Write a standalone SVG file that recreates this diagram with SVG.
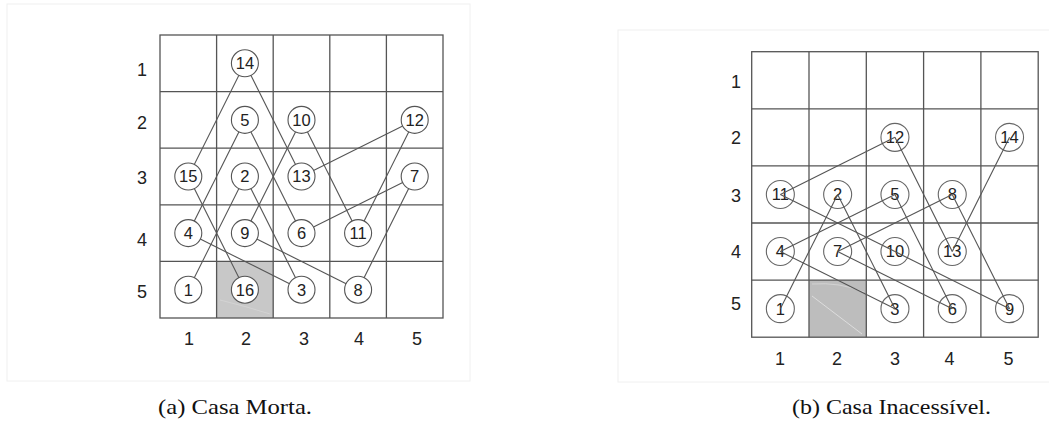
<svg xmlns="http://www.w3.org/2000/svg" width="1049" height="429" viewBox="0 0 1049 429">
<defs>
<style>
.frame{fill:#ffffff;stroke:#f0f0f0;stroke-width:1}
.grid{fill:none;stroke:#555;stroke-width:1.3}
.shade{fill:#c8c8c8}
.shade2{fill:#bdbdbd}
.lbl{font-family:"Liberation Sans",Arial,sans-serif;font-size:18px;fill:#222;text-anchor:middle}
.node circle{fill:#ffffff;stroke:#555;stroke-width:1.1}
.node2 circle{fill:#ffffff;stroke:#666;stroke-width:1.1}
.node text,.node2 text{font-family:"Liberation Sans",Arial,sans-serif;font-size:16.5px;fill:#222;text-anchor:middle}
.conn line{stroke:#555;stroke-width:1.1}
.cap{font-family:"Liberation Serif","Times New Roman",serif;font-size:21px;fill:#111}
</style>
</defs>
<rect width="1049" height="429" fill="#ffffff"/>

<!-- Panel (a) -->
<g id="panel-a">
<rect class="frame" x="7" y="4" width="463" height="377"/>
<rect class="shade" x="216.6" y="261.4" width="56.6" height="56.6"/>
<path d="M220 300 Q245 306 270 314" stroke="#d6d6d6" stroke-width="0.8" fill="none"/>
<g class="grid">
<rect x="160" y="35" width="283" height="283"/>
<line x1="216.6" y1="35" x2="216.6" y2="318"/>
<line x1="273.2" y1="35" x2="273.2" y2="318"/>
<line x1="329.8" y1="35" x2="329.8" y2="318"/>
<line x1="386.4" y1="35" x2="386.4" y2="318"/>
<line x1="160" y1="91.6" x2="443" y2="91.6"/>
<line x1="160" y1="148.2" x2="443" y2="148.2"/>
<line x1="160" y1="204.8" x2="443" y2="204.8"/>
<line x1="160" y1="261.4" x2="443" y2="261.4"/>
</g>
<g id="a-labels">
<text class="lbl" x="142" y="76">1</text>
<text class="lbl" x="142" y="129">2</text>
<text class="lbl" x="142" y="184">3</text>
<text class="lbl" x="142" y="246">4</text>
<text class="lbl" x="142" y="298">5</text>
<text class="lbl" x="189" y="345">1</text>
<text class="lbl" x="246" y="345">2</text>
<text class="lbl" x="304" y="345">3</text>
<text class="lbl" x="359" y="345">4</text>
<text class="lbl" x="417" y="345">5</text>
</g>
</g>

<g id="a-connectors" class="conn">
<line x1="188.3" y1="289.7" x2="244.9" y2="176.5"/>
<line x1="244.9" y1="176.5" x2="301.5" y2="289.7"/>
<line x1="301.5" y1="289.7" x2="188.3" y2="233.1"/>
<line x1="188.3" y1="233.1" x2="244.9" y2="119.9"/>
<line x1="244.9" y1="119.9" x2="301.5" y2="233.1"/>
<line x1="301.5" y1="233.1" x2="414.7" y2="176.5"/>
<line x1="414.7" y1="176.5" x2="358.1" y2="289.7"/>
<line x1="358.1" y1="289.7" x2="244.9" y2="233.1"/>
<line x1="244.9" y1="233.1" x2="301.5" y2="119.9"/>
<line x1="301.5" y1="119.9" x2="358.1" y2="233.1"/>
<line x1="358.1" y1="233.1" x2="414.7" y2="119.9"/>
<line x1="414.7" y1="119.9" x2="301.5" y2="176.5"/>
<line x1="301.5" y1="176.5" x2="244.9" y2="63.3"/>
<line x1="244.9" y1="63.3" x2="188.3" y2="176.5"/>
<line x1="188.3" y1="176.5" x2="244.9" y2="289.7"/>
</g>

<g id="a-n1" class="node"><circle cx="188.3" cy="289.7" r="13.5"/><text x="188.3" y="295.6">1</text></g>
<g id="a-n2" class="node"><circle cx="244.9" cy="176.5" r="13.5"/><text x="244.9" y="182.4">2</text></g>
<g id="a-n3" class="node"><circle cx="301.5" cy="289.7" r="13.5"/><text x="301.5" y="295.6">3</text></g>
<g id="a-n4" class="node"><circle cx="188.3" cy="233.1" r="13.5"/><text x="188.3" y="239">4</text></g>
<g id="a-n5" class="node"><circle cx="244.9" cy="119.9" r="13.5"/><text x="244.9" y="125.8">5</text></g>
<g id="a-n6" class="node"><circle cx="301.5" cy="233.1" r="13.5"/><text x="301.5" y="239">6</text></g>
<g id="a-n7" class="node"><circle cx="414.7" cy="176.5" r="13.5"/><text x="414.7" y="182.4">7</text></g>
<g id="a-n8" class="node"><circle cx="358.1" cy="289.7" r="13.5"/><text x="358.1" y="295.6">8</text></g>
<g id="a-n9" class="node"><circle cx="244.9" cy="233.1" r="13.5"/><text x="244.9" y="239">9</text></g>
<g id="a-n10" class="node"><circle cx="301.5" cy="119.9" r="13.5"/><text x="301.5" y="125.8">10</text></g>
<g id="a-n11" class="node"><circle cx="358.1" cy="233.1" r="13.5"/><text x="358.1" y="239">11</text></g>
<g id="a-n12" class="node"><circle cx="414.7" cy="119.9" r="13.5"/><text x="414.7" y="125.8">12</text></g>
<g id="a-n13" class="node"><circle cx="301.5" cy="176.5" r="13.5"/><text x="301.5" y="182.4">13</text></g>
<g id="a-n14" class="node"><circle cx="244.9" cy="63.3" r="13.5"/><text x="244.9" y="69.2">14</text></g>
<g id="a-n15" class="node"><circle cx="188.3" cy="176.5" r="13.5"/><text x="188.3" y="182.4">15</text></g>
<g id="a-n16" class="node"><circle cx="244.9" cy="289.7" r="13.5"/><text x="244.9" y="295.6">16</text></g>

<!-- Panel (b) -->
<g id="panel-b">
<rect class="frame" x="618" y="30" width="440" height="352"/>
<rect class="shade2" x="809" y="280.1" width="57.3" height="57.1"/>
<path d="M812 296 L862 334" stroke="#e4e4e4" stroke-width="0.8" fill="none"/>
<path d="M812 284 Q840 282 864 292" stroke="#d8d8d8" stroke-width="0.8" fill="none"/>
<g class="grid">
<rect x="751.7" y="51.7" width="286.5" height="285.5"/>
<line x1="809" y1="51.7" x2="809" y2="337.2"/>
<line x1="866.3" y1="51.7" x2="866.3" y2="337.2"/>
<line x1="923.6" y1="51.7" x2="923.6" y2="337.2"/>
<line x1="980.9" y1="51.7" x2="980.9" y2="337.2"/>
<line x1="751.7" y1="108.8" x2="1038.2" y2="108.8"/>
<line x1="751.7" y1="165.9" x2="1038.2" y2="165.9"/>
<line x1="751.7" y1="223" x2="1038.2" y2="223"/>
<line x1="751.7" y1="280.1" x2="1038.2" y2="280.1"/>
</g>
<g id="b-labels">
<text class="lbl" x="736" y="88">1</text>
<text class="lbl" x="736" y="144">2</text>
<text class="lbl" x="736" y="202">3</text>
<text class="lbl" x="736" y="258">4</text>
<text class="lbl" x="736" y="310">5</text>
<text class="lbl" x="780" y="364.5">1</text>
<text class="lbl" x="837" y="364.5">2</text>
<text class="lbl" x="895" y="364.5">3</text>
<text class="lbl" x="949.5" y="364.5">4</text>
<text class="lbl" x="1008.5" y="364.5">5</text>
</g>
</g>

<g id="b-n1" class="node2"><circle cx="780.35" cy="308.65" r="14"/><text x="780.35" y="314.5">1</text></g>
<g id="b-n2" class="node2"><circle cx="837.65" cy="194.45" r="14"/><text x="837.65" y="200.3">2</text></g>
<g id="b-n3" class="node2"><circle cx="894.95" cy="308.65" r="14"/><text x="894.95" y="314.5">3</text></g>
<g id="b-n4" class="node2"><circle cx="780.35" cy="251.55" r="14"/><text x="780.35" y="257.4">4</text></g>
<g id="b-n5" class="node2"><circle cx="894.95" cy="194.45" r="14"/><text x="894.95" y="200.3">5</text></g>
<g id="b-n6" class="node2"><circle cx="952.25" cy="308.65" r="14"/><text x="952.25" y="314.5">6</text></g>
<g id="b-n7" class="node2"><circle cx="837.65" cy="251.55" r="14"/><text x="837.65" y="257.4">7</text></g>
<g id="b-n8" class="node2"><circle cx="952.25" cy="194.45" r="14"/><text x="952.25" y="200.3">8</text></g>
<g id="b-n9" class="node2"><circle cx="1009.55" cy="308.65" r="14"/><text x="1009.55" y="314.5">9</text></g>
<g id="b-n10" class="node2"><circle cx="894.95" cy="251.55" r="14"/><text x="894.95" y="257.4">10</text></g>
<g id="b-n11" class="node2"><circle cx="780.35" cy="194.45" r="14"/><text x="780.35" y="200.3">11</text></g>
<g id="b-n12" class="node2"><circle cx="894.95" cy="137.35" r="14"/><text x="894.95" y="143.2">12</text></g>
<g id="b-n13" class="node2"><circle cx="952.25" cy="251.55" r="14"/><text x="952.25" y="257.4">13</text></g>
<g id="b-n14" class="node2"><circle cx="1009.55" cy="137.35" r="14"/><text x="1009.55" y="143.2">14</text></g>

<g id="b-connectors" class="conn">
<line x1="780.35" y1="308.65" x2="837.65" y2="194.45"/>
<line x1="837.65" y1="194.45" x2="894.95" y2="308.65"/>
<line x1="894.95" y1="308.65" x2="780.35" y2="251.55"/>
<line x1="780.35" y1="251.55" x2="894.95" y2="194.45"/>
<line x1="894.95" y1="194.45" x2="952.25" y2="308.65"/>
<line x1="952.25" y1="308.65" x2="837.65" y2="251.55"/>
<line x1="837.65" y1="251.55" x2="952.25" y2="194.45"/>
<line x1="952.25" y1="194.45" x2="1009.55" y2="308.65"/>
<line x1="1009.55" y1="308.65" x2="894.95" y2="251.55"/>
<line x1="894.95" y1="251.55" x2="780.35" y2="194.45"/>
<line x1="780.35" y1="194.45" x2="894.95" y2="137.35"/>
<line x1="894.95" y1="137.35" x2="952.25" y2="251.55"/>
<line x1="952.25" y1="251.55" x2="1009.55" y2="137.35"/>
</g>

<g id="captions">
<text class="cap" x="158" y="414" textLength="154" lengthAdjust="spacingAndGlyphs">(a) Casa Morta.</text>
<text class="cap" x="792" y="414" textLength="199" lengthAdjust="spacingAndGlyphs">(b) Casa Inacessível.</text>
</g>
</svg>
